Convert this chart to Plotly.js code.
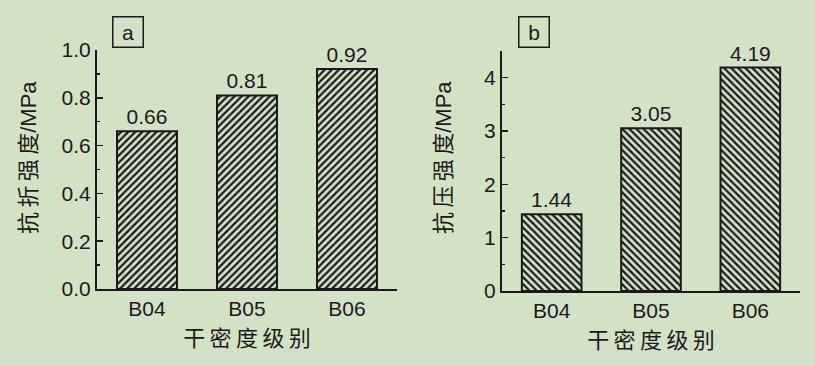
<!DOCTYPE html>
<html>
<head>
<meta charset="utf-8">
<script src="https://cdn.plot.ly/plotly-3.0.1.min.js"></script>
<style>
html,body{margin:0;padding:0;background:#d3e1c6;}
#chart{width:815px;height:366px;}
</style>
</head>
<body>
<div id="chart"></div>
<script>
var categories = ["B04", "B05", "B06"];
var flexuralValues = [0.66, 0.81, 0.92];
var flexuralLabels = ["0.66", "0.81", "0.92"];
var compressiveValues = [1.44, 3.05, 4.19];
var compressiveLabels = ["1.44", "3.05", "4.19"];
var xTitle = "干\u2009密\u2009度\u2009级\u2009别";
var yTitleA = "抗\u2009折\u2009强\u2009度";
var yTitleB = "抗\u2009压\u2009强\u2009度";
var yUnit = "/MPa";

var BG = "#d3e1c6";
var INK = "#1a1a1a";
var LATIN = "Liberation Sans, Arial, sans-serif";
var CJK = "Noto Sans CJK SC, sans-serif";

function barTrace(vals, labels, shape, xa, ya) {
  return {
    type: "bar",
    x: categories,
    y: vals,
    text: labels,
    textposition: "outside",
    cliponaxis: false,
    textfont: {family: LATIN, size: 21, color: INK},
    width: 0.6,
    xaxis: xa,
    yaxis: ya,
    hoverinfo: "skip",
    marker: {
      color: BG,
      line: {color: INK, width: 2},
      pattern: {shape: shape, fgcolor: INK, bgcolor: BG, size: 5, solidity: 0.45}
    },
    showlegend: false
  };
}

var data = [
  barTrace(flexuralValues, flexuralLabels, "/", "x", "y"),
  barTrace(compressiveValues, compressiveLabels, "\\", "x2", "y2")
];

function xAxis(domain, anchor) {
  return {
    domain: domain, anchor: anchor,
    type: "category",
    range: [-0.5, 2.5],
    showline: true, linecolor: INK, linewidth: 2,
    ticks: "", showgrid: false, zeroline: false,
    tickfont: {family: LATIN, size: 21, color: INK},
    title: {text: xTitle, font: {family: CJK, size: 22, color: INK}, standoff: 6},
    automargin: false
  };
}
function yAxis(domain, anchor, range, dtick, minorDtick) {
  return {
    domain: domain, anchor: anchor,
    range: range, dtick: dtick, tick0: 0,
    showline: true, linecolor: INK, linewidth: 2,
    ticks: "inside", ticklen: 6, tickwidth: 1.5, tickcolor: INK,
    minor: {ticks: "inside", dtick: minorDtick, ticklen: 3, tickwidth: 1.5, tickcolor: INK, showgrid: false},
    showgrid: false, zeroline: false,
    tickfont: {family: LATIN, size: 21, color: INK},
    automargin: false
  };
}

function yTitleAnn(text, xpx) {
  return {
    text: text + '<span style="font-family:Liberation Sans, Arial, sans-serif">' + yUnit + '</span>',
    xref: "paper", yref: "paper", x: xpx/815, y: 1-158/366,
    xanchor: "center", yanchor: "middle", textangle: -90, showarrow: false,
    font: {family: CJK, size: 22, color: INK}
  };
}
function panelLabel(text, xpx) {
  return {
    text: text, xref: "paper", yref: "paper", x: xpx/815, y: 1-31.5/366,
    xanchor: "center", yanchor: "middle", showarrow: false,
    font: {family: LATIN, size: 21, color: INK},
    bordercolor: INK, borderwidth: 1.5, borderpad: 0, width: 29, height: 29, bgcolor: "rgba(0,0,0,0)"
  };
}

var layout = {
  width: 815, height: 366,
  margin: {l: 0, r: 0, t: 0, b: 0},
  paper_bgcolor: BG, plot_bgcolor: "rgba(0,0,0,0)",
  bargap: 0.4,
  xaxis: xAxis([97/815, 397/815], "y"),
  yaxis: Object.assign(yAxis([1-289/366, 1-50/366], "x", [0, 1.0], 0.2, 0.1), {tickformat: ".1f"}),
  xaxis2: xAxis([502/815, 800/815], "y2"),
  yaxis2: yAxis([1-291/366, 1-51/366], "x2", [0, 4.5], 1, 0.5),
  annotations: [
    panelLabel("a", 127.5),
    panelLabel("b", 533.5),
    yTitleAnn(yTitleA, 26),
    yTitleAnn(yTitleB, 441)
  ]
};

Plotly.newPlot("chart", data, layout, {staticPlot: true, displayModeBar: false});
</script>
</body>
</html>
